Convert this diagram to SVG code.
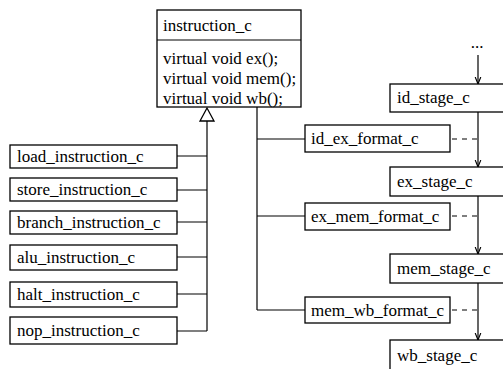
<svg xmlns="http://www.w3.org/2000/svg" width="503" height="369" viewBox="0 0 503 369">
  <style>
    .box { fill: #ffffff; stroke: #000000; stroke-width: 1.3; }
    .ln { fill: none; stroke: #000000; stroke-width: 1.2; }
    .dash { fill: none; stroke: #000000; stroke-width: 1.2; stroke-dasharray: 5 5; }
    .t { font-family: "Liberation Serif", "Times New Roman", serif; font-size: 17px; fill: #000000; }
  </style>
  <defs>
    <marker id="arrow" viewBox="0 0 10 10" refX="10" refY="5" markerWidth="7" markerHeight="9" orient="auto" markerUnits="userSpaceOnUse">
      <path d="M0,1 L10,5 L0,9" fill="none" stroke="#000000" stroke-width="1.6"/>
    </marker>
  </defs>
  <rect width="503" height="369" fill="#ffffff"/>

  <!-- connectors -->
  <g id="connectors">
    <!-- inheritance tree -->
    <path class="ln" d="M207,121 V331"/>
    <path d="M207,108 L200,121 L214,121 Z" fill="#ffffff" stroke="#000000" stroke-width="1.3"/>
    <path class="ln" d="M177,156 H207 M177,190 H207 M177,222 H207 M177,257 H207 M177,294 H207 M177,331 H207"/>
    <!-- instruction to pipeline formats -->
    <path class="ln" d="M257,107 V310 M257,139 H305 M257,216 H305 M257,310 H305"/>
    <!-- pipeline flow -->
    <path class="ln" d="M478,55 V84" marker-end="url(#arrow)"/>
    <path class="ln" d="M478,112 V167" marker-end="url(#arrow)"/>
    <path class="ln" d="M478,196 V254" marker-end="url(#arrow)"/>
    <path class="ln" d="M478,283 V340" marker-end="url(#arrow)"/>
    <!-- format to stage dependencies -->
    <path class="dash" d="M452,139 H478 M452,216 H478 M452,310 H478"/>
    <text class="t" x="477" y="48" text-anchor="middle">...</text>
  </g>

  <g id="instruction_c">
    <rect class="box" x="157" y="10" width="144" height="97"/>
    <path class="ln" d="M157,40 H301"/>
    <text class="t" x="163" y="31">instruction_c</text>
    <text class="t" x="163" y="64">virtual void ex();</text>
    <text class="t" x="163" y="84">virtual void mem();</text>
    <text class="t" x="163" y="104">virtual void wb();</text>
  </g>

  <g id="load_instruction_c">
    <rect class="box" x="10" y="145" width="167" height="23"/>
    <text class="t" x="17" y="162">load_instruction_c</text>
  </g>
  <g id="store_instruction_c">
    <rect class="box" x="10" y="178" width="167" height="23"/>
    <text class="t" x="17" y="195">store_instruction_c</text>
  </g>
  <g id="branch_instruction_c">
    <rect class="box" x="10" y="211" width="167" height="23"/>
    <text class="t" x="17" y="228">branch_instruction_c</text>
  </g>
  <g id="alu_instruction_c">
    <rect class="box" x="10" y="245" width="167" height="25"/>
    <text class="t" x="17" y="263">alu_instruction_c</text>
  </g>
  <g id="halt_instruction_c">
    <rect class="box" x="10" y="282" width="167" height="25"/>
    <text class="t" x="17" y="300">halt_instruction_c</text>
  </g>
  <g id="nop_instruction_c">
    <rect class="box" x="10" y="317" width="167" height="27"/>
    <text class="t" x="17" y="336">nop_instruction_c</text>
  </g>

  <g id="id_ex_format_c">
    <rect class="box" x="305" y="125" width="145" height="27"/>
    <text class="t" x="311" y="144">id_ex_format_c</text>
  </g>
  <g id="ex_mem_format_c">
    <rect class="box" x="305" y="203" width="145" height="27"/>
    <text class="t" x="311" y="222">ex_mem_format_c</text>
  </g>
  <g id="mem_wb_format_c">
    <rect class="box" x="305" y="297" width="145" height="26"/>
    <text class="t" x="311" y="316">mem_wb_format_c</text>
  </g>

  <g id="id_stage_c">
    <rect class="box" x="390" y="84" width="125" height="28"/>
    <text class="t" x="397" y="103">id_stage_c</text>
  </g>
  <g id="ex_stage_c">
    <rect class="box" x="390" y="167" width="125" height="29"/>
    <text class="t" x="397" y="187">ex_stage_c</text>
  </g>
  <g id="mem_stage_c">
    <rect class="box" x="390" y="254" width="125" height="29"/>
    <text class="t" x="397" y="274">mem_stage_c</text>
  </g>
  <g id="wb_stage_c">
    <rect class="box" x="390" y="340" width="125" height="40"/>
    <text class="t" x="397" y="361">wb_stage_c</text>
  </g>
</svg>
